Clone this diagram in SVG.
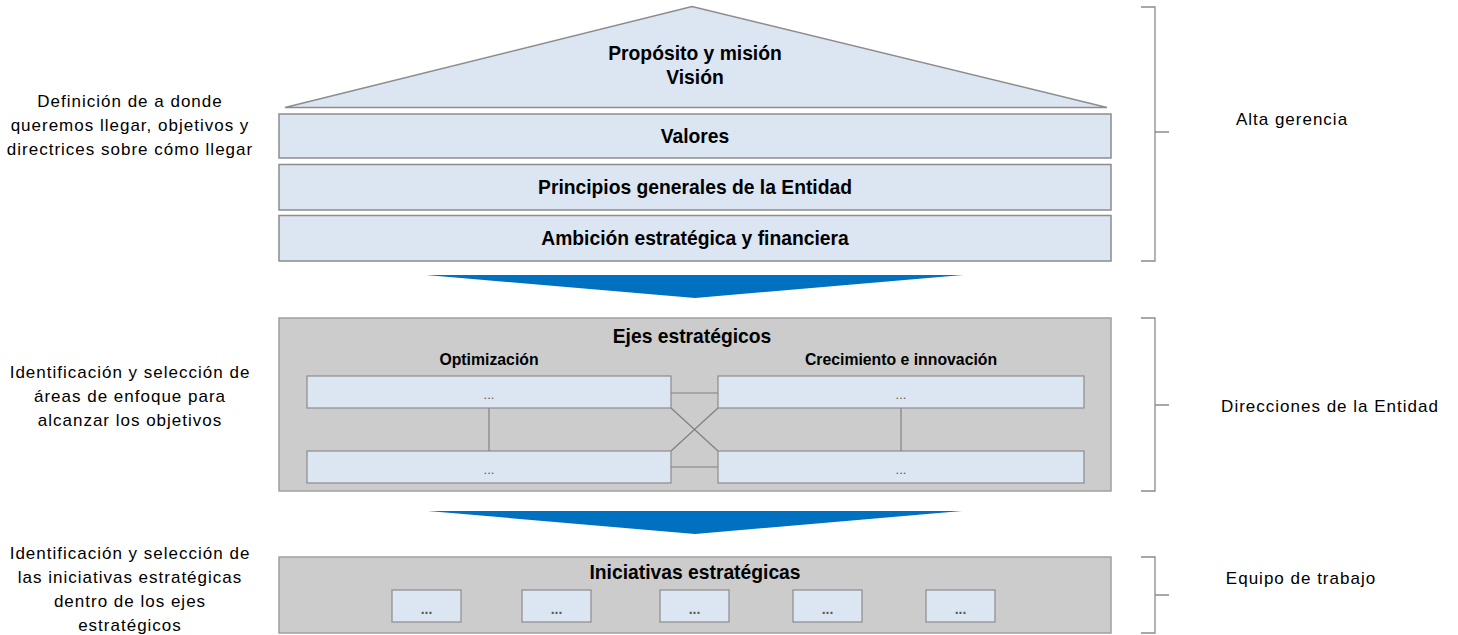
<svg xmlns="http://www.w3.org/2000/svg" width="1458" height="635" viewBox="0 0 1458 635">
<style>
.bg{fill:#ffffff}
.lb{fill:#DCE6F2;stroke:#8C8C8C;stroke-width:1.5}
.gb{fill:#CCCCCC;stroke:#A0A0A0;stroke-width:1.5}
.sb{fill:#DCE6F2;stroke:#8C8C8C;stroke-width:1.2}
.arr{fill:#0070C0}
.ln{stroke:#808080;stroke-width:1.2;fill:none}
.br{stroke:#8C8C8C;stroke-width:1.3;fill:none}
.t{font-family:"Liberation Sans",Arial,sans-serif;font-weight:bold;font-size:19.3px;fill:#000;text-anchor:middle}
.ts{font-family:"Liberation Sans",Arial,sans-serif;font-weight:bold;font-size:15.8px;fill:#000;text-anchor:middle}
.dots{font-family:"Liberation Sans",Arial,sans-serif;font-size:13px;fill:#595959;text-anchor:middle}
.dotsb{font-family:"Liberation Sans",Arial,sans-serif;font-weight:bold;font-size:14px;fill:#595959;text-anchor:middle}
.side{font-family:"Liberation Sans",Arial,sans-serif;font-size:17px;letter-spacing:1px;fill:#000;text-anchor:middle}
</style>
<rect class="bg" x="0" y="0" width="1458" height="635"/>

<g id="proposito">
<polygon class="lb" points="285,107.5 692,6.5 1107,107.5"/>
<text class="t" x="695" y="60">Propósito y misión</text>
<text class="t" x="695" y="84">Visión</text>
</g>
<g id="valores">
<rect class="lb" x="279" y="114" width="832" height="44"/>
<text class="t" x="695" y="143">Valores</text>
</g>
<g id="principios">
<rect class="lb" x="279" y="164.5" width="832" height="45.5"/>
<text class="t" x="695" y="194">Principios generales de la Entidad</text>
</g>
<g id="ambicion">
<rect class="lb" x="279" y="215.5" width="832" height="45.5"/>
<text class="t" x="695" y="245">Ambición estratégica y financiera</text>
</g>

<g id="arrow1"><polygon class="arr" points="426,275 963,275 695,298"/></g>

<g id="ejes">
<rect class="gb" x="279" y="318" width="832" height="173"/>
<text class="t" x="692" y="343">Ejes estratégicos</text>
<text class="ts" x="489" y="365">Optimización</text>
<text class="ts" x="901" y="365">Crecimiento e innovación</text>
</g>

<g id="connectors">
<line class="ln" x1="671" y1="393" x2="718" y2="393"/>
<line class="ln" x1="671" y1="467" x2="718" y2="467"/>
<line class="ln" x1="671" y1="408" x2="718" y2="451"/>
<line class="ln" x1="718" y1="408" x2="671" y2="451"/>
<line class="ln" x1="489" y1="408" x2="489" y2="451"/>
<line class="ln" x1="901" y1="408" x2="901" y2="451"/>
</g>

<g id="opt1"><rect class="sb" x="307" y="376" width="364" height="32"/><text class="dots" x="489" y="399">...</text></g>
<g id="opt2"><rect class="sb" x="307" y="451" width="364" height="32"/><text class="dots" x="489" y="474">...</text></g>
<g id="cre1"><rect class="sb" x="718" y="376" width="366" height="32"/><text class="dots" x="901" y="399">...</text></g>
<g id="cre2"><rect class="sb" x="718" y="451" width="366" height="32"/><text class="dots" x="901" y="474">...</text></g>

<g id="arrow2"><polygon class="arr" points="428,511 962,511 695,534"/></g>

<g id="iniciativas">
<rect class="gb" x="279" y="557" width="832" height="76"/>
<text class="t" x="695" y="579">Iniciativas estratégicas</text>
</g>
<g id="ini1"><rect class="sb" x="392" y="590" width="69" height="32"/><text class="dotsb" x="426.5" y="614">...</text></g>
<g id="ini2"><rect class="sb" x="522" y="590" width="69" height="32"/><text class="dotsb" x="556.5" y="614">...</text></g>
<g id="ini3"><rect class="sb" x="660" y="590" width="69" height="32"/><text class="dotsb" x="694.5" y="614">...</text></g>
<g id="ini4"><rect class="sb" x="793" y="590" width="69" height="32"/><text class="dotsb" x="827.5" y="614">...</text></g>
<g id="ini5"><rect class="sb" x="926" y="590" width="69" height="32"/><text class="dotsb" x="960.5" y="614">...</text></g>

<g id="left-labels">
<text class="side" x="130" y="107">Definición de a donde</text>
<text class="side" x="130" y="131">queremos llegar, objetivos y</text>
<text class="side" x="130" y="155">directrices sobre cómo llegar</text>
<text class="side" x="130" y="378">Identificación y selección de</text>
<text class="side" x="130" y="402">áreas de enfoque para</text>
<text class="side" x="130" y="426">alcanzar los objetivos</text>
<text class="side" x="130" y="559">Identificación y selección de</text>
<text class="side" x="130" y="583">las iniciativas estratégicas</text>
<text class="side" x="130" y="607">dentro de los ejes</text>
<text class="side" x="130" y="631">estratégicos</text>
</g>

<g id="brackets">
<path class="br" d="M1141,7 H1155 V261 H1141 M1155,132 H1169"/>
<path class="br" d="M1141,318 H1155 V491 H1141 M1155,405 H1169"/>
<path class="br" d="M1141,557 H1155 V633 H1141 M1155,595 H1169"/>
</g>

<g id="right-labels">
<text class="side" x="1292" y="125">Alta gerencia</text>
<text class="side" x="1330" y="412">Direcciones de la Entidad</text>
<text class="side" x="1301" y="584">Equipo de trabajo</text>
</g>
</svg>
